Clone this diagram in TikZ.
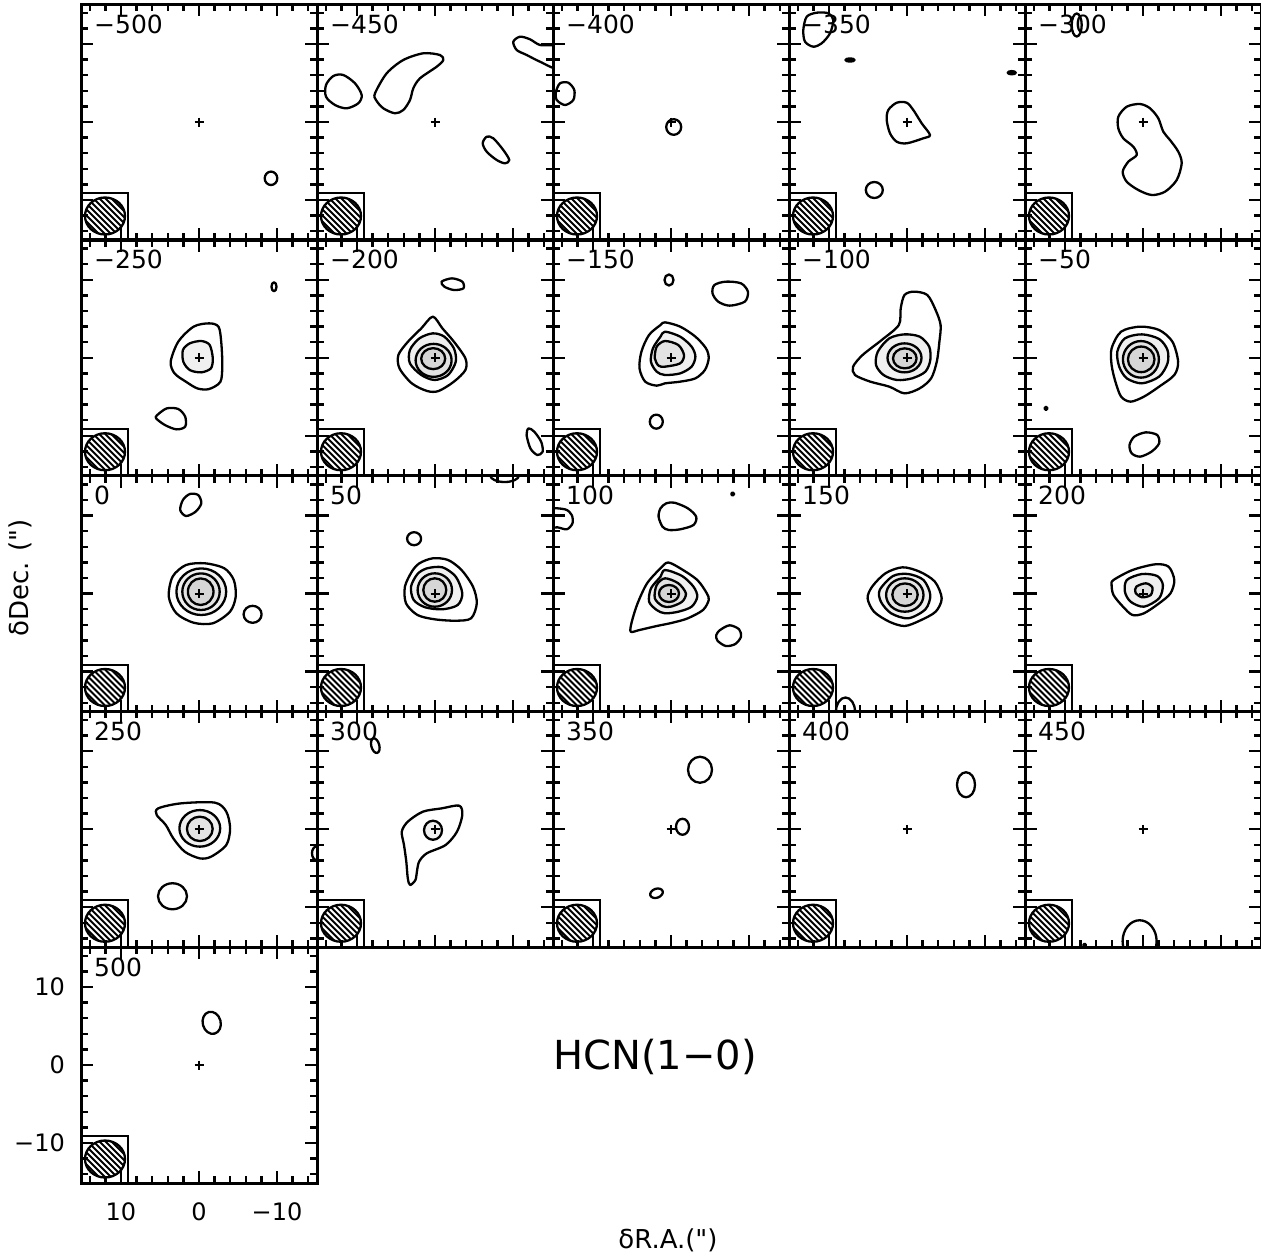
\documentclass[tikz,border=0pt]{standalone}
\usepackage{fontspec}
\setmainfont{DejaVu Sans}[Ligatures=TeXOff]
\usetikzlibrary{calc}

\tikzset{
  frame/.style={line width=3pt},
  tickln/.style={line width=2.4pt},
  cnt/.style={line width=2.3pt, line join=round},
  lev2/.style={cnt, fill=gray!12},
  lev3/.style={cnt, fill=gray!22},
  lev4/.style={cnt, fill=gray!32},
  dot/.style={cnt, fill=black},
  beambox/.style={line width=2pt},
  hatch/.style={line width=1.8pt},
  crossln/.style={line width=2pt},
  velo/.style={font=\fontsize{25}{30}\selectfont, anchor=base west, inner sep=0pt},
  axnum/.style={font=\fontsize{24}{28}\selectfont, inner sep=0pt},
  axtitle/.style={font=\fontsize{26}{30}\selectfont, inner sep=0pt},
}

\begin{document}
\begin{tikzpicture}[x=1pt,y=-1pt]
\useasboundingbox (0,0) rectangle (1261,1256);
%%
  % Channel: -500
\begin{scope}[shift={(199,122)}]
  \clip (-118,-118) rectangle (118,118);
  \draw[cnt] (72,56.3) ellipse [x radius=6.3, y radius=6.7];
\end{scope}
  % Channel: -450
\begin{scope}[shift={(435,122)}]
  \clip (-118,-118) rectangle (118,118);
  \draw[cnt] plot[smooth cycle] coordinates {(-101.7,-46) (-91.7,-47) (-80,-38.7) (-73.3,-27) (-76.7,-18.7) (-88.3,-13.7) (-100,-17) (-109,-25.3) (-109,-37)};
  \draw[cnt] plot[smooth cycle] coordinates {(-60,-28.7) (-48.3,-48.7) (-31.7,-62) (-11.7,-68.7) (5,-67) (8.3,-62) (1.7,-55.3) (-15,-43.7) (-21.7,-33.7) (-25,-22) (-31.7,-12) (-40,-8.7) (-51.7,-13.7) (-59,-22)};
  \draw[cnt] plot[smooth cycle] coordinates {(51.7,14.7) (58.3,16.3) (68.3,28) (74.3,38) (70,41.3) (61.7,38) (51.7,29.7) (47.7,21.3)};
  \draw[cnt] plot[smooth cycle] coordinates {(78.3,-80.3) (85,-85.3) (95,-82.7) (105,-77) (122,-75) (122,-54) (105,-60.3) (91.7,-67) (81.7,-72)};
\end{scope}
  % Channel: -400
\begin{scope}[shift={(671,122)}]
  \clip (-118,-118) rectangle (118,118);
  \draw[cnt] plot[smooth cycle] coordinates {(-111,-38.7) (-102.7,-39.3) (-96.7,-32) (-97.7,-22) (-106,-17) (-114.3,-22) (-115,-30.3)};
  \draw[cnt] (2.7,5) ellipse [x radius=7.5, y radius=7.8];
\end{scope}
  % Channel: -350
\begin{scope}[shift={(907,122)}]
  \clip (-118,-118) rectangle (118,118);
  \draw[cnt] plot[smooth cycle] coordinates {(-100.3,-105.3) (-90.3,-109.3) (-78.7,-108.7) (-73.7,-102) (-77,-88.7) (-85.3,-78.7) (-93.7,-75.3) (-102,-80.3) (-103.7,-92)};
  \draw[dot] (-57,-62) ellipse [x radius=4.5, y radius=1.6];
  \draw[dot] (104.7,-49.3) ellipse [x radius=4, y radius=1.6];
  \draw[cnt] plot[smooth cycle] coordinates {(-18.7,-12) (-10.3,-19.3) (-0.3,-19.3) (6.3,-12) (14.7,1.3) (23,13) (16.3,16.3) (-0.3,21.3) (-10.3,19.7) (-17,11.3) (-20.3,-2)};
  \draw[cnt] (-32.7,68) ellipse [x radius=8.5, y radius=8];
\end{scope}
  % Channel: -300
\begin{scope}[shift={(1143,122)}]
  \clip (-118,-118) rectangle (118,118);
  \draw[cnt] (-66.3,-97) ellipse [x radius=5, y radius=11.5];
  \draw[cnt] plot[smooth cycle] coordinates {(-24.7,-5.3) (-16.3,-15.3) (-3,-18) (7,-13.7) (15.3,-3.7) (20.3,9.7) (27,18) (35.3,29.7) (38.7,41.3) (33.7,58) (22,69.7) (8.7,73) (-4.7,68) (-16.3,59.7) (-20.3,49.7) (-14.7,39.7) (-6.3,33) (-9.7,24.7) (-19.7,16.3) (-24.7,6.3)};
\end{scope}
  % Channel: -250
\begin{scope}[shift={(199,357.75)}]
  \clip (-118,-118) rectangle (118,118);
  \draw[cnt] plot[smooth cycle] coordinates {(-28.3,3.9) (-20.7,-16.1) (-5.4,-31.1) (10,-34.4) (19.5,-31.1) (22.2,-16.1) (23.3,7.3) (21.4,24) (10,31.3) (-1.5,30.7) (-13,24) (-24.5,15.6)};
  \draw[lev2] plot[smooth cycle] coordinates {(-16.1,-7.75) (-9.2,-14.4) (2.3,-16.75) (10.7,-12.75) (13.8,0.6) (11.9,10.6) (2.3,14.6) (-9.2,12.3) (-15.7,3.9)};
  \draw[cnt] plot[smooth cycle] coordinates {(-41.7,57.25) (-32.2,50.6) (-20.7,51.25) (-13.8,58.9) (-13.8,68.9) (-22.6,71.6) (-34.1,67.25) (-42.9,60.6)};
  \draw[cnt] (75,-71) ellipse [x radius=2.5, y radius=4.5];
\end{scope}
  % Channel: -200
\begin{scope}[shift={(435,357.75)}]
  \clip (-118,-118) rectangle (118,118);
  \draw[cnt] plot[smooth cycle] coordinates {(6.6,-76.1) (17,-79.4) (27.3,-76.1) (28.4,-69.4) (18.9,-67.75) (9.3,-71.1)};
  \draw[cnt] plot[smooth cycle] coordinates {(-2.2,-41.1) (7.4,-29.4) (18.9,-16.1) (30.4,0.6) (30.4,12.25) (18.9,23.9) (3.6,33.25) (-7.9,33.25) (-23.2,25.6) (-35.5,10.6) (-36.6,-2.75) (-27,-16.1) (-13.7,-29.4)};
  \draw[lev2] plot[smooth cycle] coordinates {(-2.2,-24.4) (9.3,-21.1) (18.9,-9.4) (20.8,3.9) (13.1,17.25) (-0.3,22.25) (-13.7,17.25) (-25.1,5.6) (-25.1,-7.75) (-15.6,-19.4)};
  \draw[lev3] (-1.4,2.6) ellipse [x radius=18, y radius=16.5];
  \draw[lev4] (-1.8,0.9) ellipse [x radius=12, y radius=10.5];
  \draw[cnt] plot[smooth cycle] coordinates {(93.5,70.6) (99.2,73.9) (106.1,83.9) (107.7,93.9) (102.3,97.25) (95.4,90.6) (91.6,77.25)};
\end{scope}
  % Channel: -150
\begin{scope}[shift={(671,357.75)}]
  \clip (-118,-118) rectangle (118,118);
  \draw[cnt] (-2,-77.75) ellipse [x radius=4.5, y radius=5.5];
  \draw[cnt] plot[smooth cycle] coordinates {(43.4,-72.75) (54.8,-76.1) (70,-74.4) (76.9,-66.1) (73.8,-56.1) (58.6,-52.1) (47.2,-56.1) (41.5,-64.4)};
  \draw[cnt] plot[smooth cycle] coordinates {(-6,-35.4) (9.2,-31.1) (24.4,-21.1) (35,-9.4) (37.7,0.6) (33.9,12.25) (24.4,20.6) (9.2,23.9) (-6,25.6) (-14.3,27.9) (-25.8,23.9) (-31.5,10.6) (-29.6,-6.1) (-22,-22.75) (-10.5,-32.75)};
  \draw[lev2] plot[smooth cycle] coordinates {(-6,-26.1) (9.2,-21.1) (20.6,-11.1) (24.4,-1.1) (20.6,8.9) (9.2,15.6) (-6,17.25) (-14.3,13.9) (-20.1,3.9) (-18.1,-9.4) (-10.5,-21.1)};
  \draw[lev3] plot[smooth cycle] coordinates {(-6,-16.75) (7.3,-12.75) (13,-2.75) (9.2,5.6) (-6,8.9) (-12.4,7.9) (-16.2,0.6) (-14.3,-11.1)};
  \draw[cnt] (-14.7,63.9) ellipse [x radius=6.5, y radius=7];
\end{scope}
  % Channel: -100
\begin{scope}[shift={(907,357.75)}]
  \clip (-118,-118) rectangle (118,118);
  \draw[cnt] plot[smooth cycle] coordinates {(7,-66.1) (20.3,-62.75) (28.6,-47.75) (33.6,-32.75) (32.4,-16.1) (29.8,3.9) (24.1,20.6) (12.7,30.6) (-2.5,35.6) (-17.7,28.9) (-36.7,23.9) (-52,17.25) (-53.9,8.9) (-44.4,-2.75) (-25.3,-17.75) (-8.2,-32.75) (-6.3,-49.4) (-2.5,-62.75)};
  \draw[lev2] plot[smooth cycle] coordinates {(-17.7,-19.4) (-2.5,-23.4) (12.7,-21.1) (22.2,-11.1) (23.3,2.25) (18.4,13.9) (5.1,20.6) (-10.1,22.25) (-23.5,17.25) (-31,7.25) (-29.2,-6.1)};
  \draw[lev3] (-2.5,0.1) ellipse [x radius=17, y radius=14.5];
  \draw[lev4] (-2.2,0.6) ellipse [x radius=11.8, y radius=10];
\end{scope}
  % Channel: -50
\begin{scope}[shift={(1143,357.75)}]
  \clip (-118,-118) rectangle (118,118);
  \draw[dot] (-97,50.6) circle [radius=1.6];
  \draw[cnt] plot[smooth cycle] coordinates {(-21.9,-26.1) (-2.9,-31.1) (16.1,-27.75) (29.4,-16.1) (35.1,3.9) (31.3,17.25) (16.1,28.9) (0.9,38.9) (-12.4,43.9) (-21.9,38.9) (-27.6,23.9) (-31.4,7.25) (-31.4,-9.4)};
  \draw[lev2] plot[smooth cycle] coordinates {(-18.1,-19.4) (-1,-23.4) (16.1,-18.75) (24.5,-7.75) (24.5,5.6) (16.1,18.9) (-1,25.6) (-16.2,20.6) (-23.8,8.9) (-25.7,-6.1)};
  \draw[lev3] (-2.1,1.6) ellipse [x radius=18, y radius=18.3];
  \draw[lev4] (-1.8,1.6) ellipse [x radius=13.3, y radius=12.8];
  \draw[cnt] plot[smooth cycle] coordinates {(-8.6,78.9) (2.8,74.6) (14.2,77.25) (16.1,85.6) (8.5,93.9) (-2.9,98.9) (-11.3,95.6) (-13.5,87.25)};
\end{scope}
  % Channel: 0
\begin{scope}[shift={(199,593.5)}]
  \clip (-118,-118) rectangle (118,118);
  \draw[cnt] plot[smooth cycle] coordinates {(-9.2,-99.5) (-0.8,-98.5) (2.3,-90.2) (-3.4,-81.8) (-13,-77.5) (-18.8,-83.5) (-16.1,-93.5)};
  \draw[cnt] plot[smooth cycle] coordinates {(-13,-28.5) (6.1,-30.2) (25.3,-25.2) (34.8,-13.5) (36.7,3.2) (31,18.2) (13.8,29.8) (-5.4,29.2) (-22.6,19.8) (-30.2,3.2) (-26.4,-16.8)};
  \draw[lev2] (2.3,-1.8) ellipse [x radius=24.9, y radius=23.3];
  \draw[lev3] (2,-1.8) ellipse [x radius=18.7, y radius=18.3];
  \draw[lev4] (1.7,-1.8) ellipse [x radius=12.8, y radius=13.3];
  \draw[cnt] (53.6,20.8) ellipse [x radius=9, y radius=8.5];
\end{scope}
  % Channel: 50
\begin{scope}[shift={(435,593.5)}]
  \clip (-118,-118) rectangle (118,118);
  \draw[cnt] (69.6,-118) ellipse [x radius=14.3, y radius=6.5];
  \draw[cnt] (-20.9,-54.8) ellipse [x radius=7, y radius=6.5];
  \draw[cnt] plot[smooth cycle] coordinates {(-15.6,-30.2) (-2.2,-35.2) (13.1,-33.5) (26.5,-23.5) (38,-6.8) (41.8,9.8) (36.1,24.8) (20.8,27.2) (-0.3,25.8) (-17.5,21.5) (-29,9.8) (-30.1,-6.8) (-23.2,-21.8)};
  \draw[lev2] plot[smooth cycle] coordinates {(-7.9,-25.2) (7.4,-26.2) (20.8,-16.8) (27.3,-0.2) (22.7,11.5) (7.4,15.8) (-9.8,13.8) (-21.3,6.5) (-24,-6.8) (-17.5,-19.5)};
  \draw[lev3] (-0.2,-3.5) ellipse [x radius=17.2, y radius=16.7];
  \draw[lev4] (-0.2,-3.5) ellipse [x radius=11.5, y radius=11.7];
\end{scope}
  % Channel: 100
\begin{scope}[shift={(671,593.5)}]
  \clip (-118,-118) rectangle (118,118);
  \draw[cnt] plot[smooth cycle] coordinates {(-125,-84) (-106.1,-84.2) (-99.3,-78.5) (-98.5,-70.2) (-104.2,-64.2) (-113.8,-66.2) (-125,-66)};
  \draw[cnt] plot[smooth cycle] coordinates {(-4.7,-90.2) (3.5,-90.8) (16.8,-85.2) (25.2,-76.8) (22.5,-68.5) (9.2,-64.2) (-2.2,-63.5) (-8.5,-66.8) (-12.4,-76.8) (-10.5,-85.2)};
  \draw[dot] (61.7,-99.5) circle [radius=1.6];
  \draw[cnt] plot[smooth cycle] coordinates {(-3,-31) (9.2,-25.2) (26.3,-13.5) (35.8,-0.2) (37.7,6.5) (32,16.5) (16.8,24.8) (1.6,29.2) (-14.3,32.5) (-31.5,36.5) (-40.3,38.2) (-39.2,28.2) (-33.4,9.8) (-23.9,-10.2) (-10.5,-25.2)};
  \draw[lev2] plot[smooth cycle] coordinates {(-6,-23.5) (11.1,-17.5) (22.5,-6.8) (26.3,3.2) (20.6,13.2) (7.3,18.2) (-6,19.8) (-14.3,16.5) (-21.9,8.2) (-20,-5.2) (-10.5,-16.8)};
  \draw[lev3] plot[smooth cycle] coordinates {(-6,-15.2) (7.3,-10.2) (14.9,-0.2) (11.1,8.2) (-0.3,13.2) (-8.5,12.5) (-16.2,4.8) (-14.3,-8.5)};
  \draw[lev4] (-2,0) ellipse [x radius=10, y radius=8.5];
  \draw[cnt] plot[smooth cycle] coordinates {(49.1,36.5) (58.6,31.8) (68.1,35.8) (70,43.2) (64.3,50.5) (54.8,52.5) (46.5,47.2) (45.3,41.5)};
\end{scope}
  % Channel: 150
\begin{scope}[shift={(907,593.5)}]
  \clip (-118,-118) rectangle (118,118);
  \draw[cnt] plot[smooth cycle] coordinates {(-21.6,-20.2) (-4.5,-26.2) (12.7,-21.8) (27.9,-11.8) (34.7,4.8) (28.6,18.2) (12.7,27.2) (-2.5,32.5) (-17.7,28.2) (-33,18.2) (-39.4,4.8) (-34.9,-6.8)};
  \draw[lev2] plot[smooth cycle] coordinates {(-14,-17.5) (1.3,-19.5) (16.5,-13.5) (23.3,1.5) (18.4,15.8) (1.3,24.8) (-15.9,19.8) (-26.1,8.2) (-27.3,-3.5)};
  \draw[lev3] (-2.2,1.5) ellipse [x radius=18.7, y radius=16.7];
  \draw[lev4] (-2,1.2) ellipse [x radius=12.7, y radius=11.3];
  \draw[cnt] (-61.5,118) ellipse [x radius=9.5, y radius=14];
\end{scope}
  % Channel: 200
\begin{scope}[shift={(1143,593.5)}]
  \clip (-118,-118) rectangle (118,118);
  \draw[cnt] plot[smooth cycle] coordinates {(-29.5,-13.5) (-10.5,-23.5) (12.3,-29.2) (25.6,-26.8) (31.3,-13.5) (27.5,-0.2) (16.1,9.8) (0.9,19.8) (-10.5,21.5) (-20,13.2) (-29.5,1.5) (-31.4,-8.5)};
  \draw[lev2] plot[smooth cycle] coordinates {(-16.2,-13.5) (-1,-19.5) (14.2,-17.5) (19.9,-8.5) (16.1,4.8) (0.9,13.2) (-12.4,8.2) (-18.1,-1.8)};
  \draw[lev3] plot[smooth cycle] coordinates {(-6.7,-6.8) (2.8,-10.2) (9.3,-6.2) (7.7,1.5) (-1,3.8) (-7.5,-0.8)};
\end{scope}
  % Channel: 250
\begin{scope}[shift={(199,829.25)}]
  \clip (-118,-118) rectangle (118,118);
  \draw[cnt] plot[smooth cycle] coordinates {(-40.8,-20.9) (-18.1,-25.9) (15.9,-26.6) (27.3,-17.6) (31.1,-0.9) (27.3,15.75) (12.1,27.4) (0.8,29.1) (-14.3,22.4) (-25.7,9.1) (-33.2,-4.25) (-42.3,-14.25)};
  \draw[lev2] (0.8,-0.9) ellipse [x radius=20.4, y radius=18.3];
  \draw[lev3] (0.8,-0.4) ellipse [x radius=12.9, y radius=12.2];
  \draw[cnt] (-26.5,67) ellipse [x radius=14.5, y radius=13];
  \draw[cnt] (118,24) ellipse [x radius=5, y radius=7];
\end{scope}
  % Channel: 300
\begin{scope}[shift={(435,829.25)}]
  \clip (-118,-118) rectangle (118,118);
  \draw[cnt] (-59.7,-83.6) ellipse [x radius=4, y radius=7.5, rotate=15];
  \draw[cnt] plot[smooth cycle] coordinates {(-27.2,-7.6) (-12.1,-17.6) (6.8,-20.9) (24.2,-23.6) (27.3,-14.25) (22,2.4) (10.6,15.75) (-8.3,24.1) (-15.9,32.4) (-18.1,42.4) (-19.6,50.75) (-24.9,55.75) (-27.2,49.1) (-28.7,32.4) (-31,15.75) (-33.2,2.4)};
  \draw[lev2] (-2,1) ellipse [x radius=9, y radius=9.5];
\end{scope}
  % Channel: 350
\begin{scope}[shift={(671,829.25)}]
  \clip (-118,-118) rectangle (118,118);
  \draw[cnt] (29,-59.5) ellipse [x radius=12, y radius=13];
  \draw[cnt] (11.5,-2.5) ellipse [x radius=6.5, y radius=8];
  \draw[cnt] (-14.5,64) ellipse [x radius=6.5, y radius=4.5, rotate=20];
\end{scope}
  % Channel: 400
\begin{scope}[shift={(907,829.25)}]
  \clip (-118,-118) rectangle (118,118);
  \draw[cnt] (59,-44.5) ellipse [x radius=9, y radius=12.5];
\end{scope}
  % Channel: 450
\begin{scope}[shift={(1143,829.25)}]
  \clip (-118,-118) rectangle (118,118);
  \draw[cnt] (-3.4,112) ellipse [x radius=17, y radius=21];
  \draw[dot] (-58.3,115.75) circle [radius=1.4];
\end{scope}
  % Channel: 500
\begin{scope}[shift={(199,1065)}]
  \clip (-118,-118) rectangle (118,118);
  \draw[cnt] (12.7,-42.2) ellipse [x radius=9, y radius=11.2, rotate=15];
\end{scope}
%%
  % Frames, ticks, beams, centres and velocities
\foreach \vel [count=\k from 0] in {−500,−450,−400,−350,−300,−250,−200,−150,−100,−50,0,50,100,150,200,250,300,350,400,450,500} {
  \pgfmathtruncatemacro{\col}{mod(\k,5)}
  \pgfmathtruncatemacro{\row}{int(\k/5)}
  \begin{scope}[shift={(199+236*\col,122+235.75*\row)}]
    \foreach \t in {-7,...,7} {
      \pgfmathsetmacro{\tl}{ifthenelse(mod(\t,5)==0,12,7)}
      \draw[tickln] (15.6*\t,-118) -- ++(0,\tl);
      \draw[tickln] (15.6*\t,118) -- ++(0,-\tl);
      \draw[tickln] (-118,15.6*\t) -- ++(\tl,0);
      \draw[tickln] (118,15.6*\t) -- ++(-\tl,0);
    }
    \begin{scope}
      \clip (-94,94) ellipse [x radius=20, y radius=18.5];
      \foreach \h in {-48,-42,...,48}
        \draw[hatch] (-124,64+\h) -- (-64,124+\h);
    \end{scope}
    \draw[cnt] (-94,94) ellipse [x radius=20, y radius=18.5];
    \draw[beambox] (-118,71) rectangle (-71,118);
    \draw[crossln] (-4.5,0) -- (4.5,0) (0,-4.5) -- (0,4.5);
    \draw[frame] (-118,-118) rectangle (118,118);
    \node[velo] (vel\k) at (-105,-89) {\vel};
  \end{scope}
}
%%
  % Axis numbers
\node[axnum, anchor=east] (ytop) at (65,987) {10};
\node[axnum, anchor=east] (ymid) at (65,1065) {0};
\node[axnum, anchor=east] (ybot) at (65,1143) {−10};
\node[axnum] (xleft) at (121,1212) {10};
\node[axnum] (xmid) at (199,1212) {0};
\node[axnum] (xright) at (277,1212) {−10};
  % Axis titles and line name
\node[axtitle, rotate=90] (ytitle) at (20,578) {δDec. (")};
\node[axtitle] (xtitle) at (668,1240) {δR.A.(")};
\node[font=\fontsize{40}{44}\selectfont, inner sep=0pt] (line) at (655,1057) {HCN(1−0)};
%
\end{tikzpicture}
\end{document}
